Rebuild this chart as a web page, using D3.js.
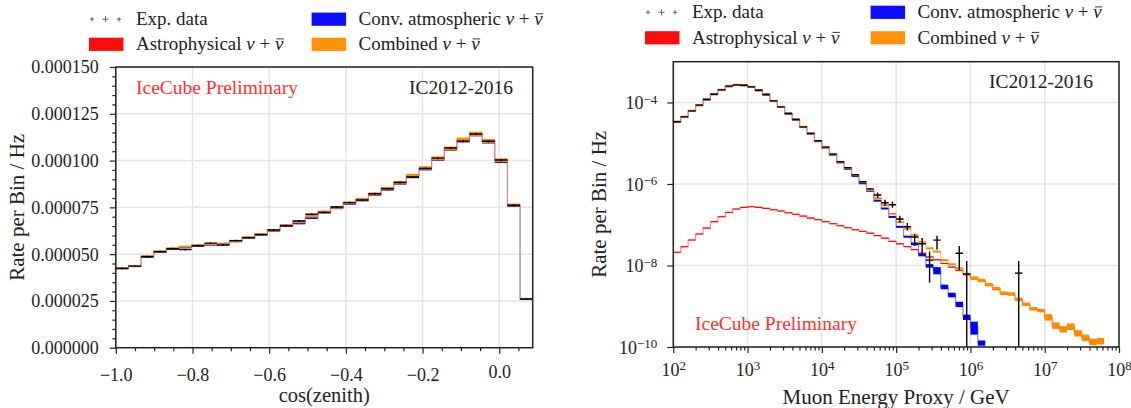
<!DOCTYPE html>
<html>
<head>
<meta charset="utf-8">
<script src="https://cdn.jsdelivr.net/npm/d3@7"></script>
<style>
  body { margin: 0; background: #fff; }
  svg text { font-family: "Liberation Serif", "DejaVu Serif", serif; fill: #222; }
</style>
</head>
<body>
<svg id="fig" width="1131" height="408"></svg>
<script>
////////////////////////////////////////////
// Données : panneau cos(zenith)          //
////////////////////////////////////////////
const cosMin = -1.0, cosMax = 0.0872, cosBins = 33;
const cosData = [4.24e-5, 4.36e-5, 4.86e-5, 5.13e-5, 5.29e-5, 5.24e-5, 5.45e-5, 5.59e-5, 5.49e-5, 5.72e-5, 5.88e-5,
                 6.04e-5, 6.29e-5, 6.52e-5, 6.77e-5, 7.13e-5, 7.23e-5, 7.52e-5, 7.75e-5, 7.89e-5, 8.23e-5, 8.49e-5,
                 8.83e-5, 9.12e-5, 9.58e-5, 10.13e-5, 10.67e-5, 11.04e-5, 11.42e-5, 11.03e-5, 10.03e-5, 7.61e-5, 2.60e-5];
const cosDataErr = [0.05e-5, 0.05e-5, 0.05e-5, 0.05e-5, 0.05e-5, 0.05e-5, 0.05e-5, 0.05e-5, 0.05e-5, 0.05e-5, 0.05e-5,
                    0.05e-5, 0.05e-5, 0.05e-5, 0.05e-5, 0.05e-5, 0.05e-5, 0.05e-5, 0.05e-5, 0.05e-5, 0.05e-5, 0.05e-5,
                    0.05e-5, 0.05e-5, 0.05e-5, 0.06e-5, 0.06e-5, 0.06e-5, 0.06e-5, 0.06e-5, 0.06e-5, 0.05e-5, 0.03e-5];
const cosConv = [4.24e-5, 4.36e-5, 4.87e-5, 5.13e-5, 5.28e-5, 5.36e-5, 5.45e-5, 5.50e-5, 5.55e-5, 5.69e-5, 5.87e-5,
                 6.05e-5, 6.26e-5, 6.52e-5, 6.66e-5, 6.95e-5, 7.24e-5, 7.48e-5, 7.71e-5, 7.90e-5, 8.19e-5, 8.48e-5,
                 8.80e-5, 9.15e-5, 9.57e-5, 10.09e-5, 10.62e-5, 11.08e-5, 11.41e-5, 11.02e-5, 9.97e-5, 7.60e-5, 2.60e-5];
const cosComb = [4.25e-5, 4.37e-5, 4.88e-5, 5.14e-5, 5.31e-5, 5.40e-5, 5.47e-5, 5.52e-5, 5.53e-5, 5.71e-5, 5.89e-5,
                 6.06e-5, 6.27e-5, 6.54e-5, 6.72e-5, 7.02e-5, 7.25e-5, 7.50e-5, 7.74e-5, 7.93e-5, 8.21e-5, 8.51e-5,
                 8.82e-5, 9.20e-5, 9.60e-5, 10.12e-5, 10.64e-5, 11.12e-5, 11.43e-5, 11.05e-5, 10.02e-5, 7.63e-5, 2.61e-5];
const cosBandFrac = 0.01;
const cosXTicks = [-1.0, -0.8, -0.6, -0.4, -0.2, 0.0];
const cosYTicks = [0, 2.5e-5, 5e-5, 7.5e-5, 1e-4, 1.25e-4, 1.5e-4];

////////////////////////////////////////////
// Données : panneau énergie (log-log)    //
////////////////////////////////////////////
const eLogMin = 2, eLogStep = 0.1, eBins = 58;
const eData = [3.35e-5, 4.44e-5, 6.22e-5, 8.59e-5, 1.186e-4, 1.596e-4, 2.04e-4, 2.51e-4, 2.70e-4, 2.65e-4,
               2.41e-4, 2.00e-4, 1.57e-4, 1.094e-4, 7.80e-5, 5.37e-5, 3.83e-5, 2.52e-5, 1.74e-5, 1.146e-5,
               8.02e-6, 5.41e-6, 3.50e-6, 2.49e-6, 1.68e-6, 1.13e-6, 7.59e-7, 5.37e-7, 3.47e-7, 3.09e-7,
               1.38e-7, 8.9e-8, 5.0e-8, 3.4e-8, 1.35e-8, 4.2e-8, null, null, 2.0e-8, 6.2e-9,
               null, null, null, null, null, null, 6.5e-9, null, null, null,
               null, null, null, null, null, null, null, null];
const eDataLow = [null, null, null, null, null, null, null, null, null, null,
                  null, null, null, null, null, null, null, null, null, null,
                  null, null, null, null, null, null, 7.3e-7, 4.6e-7, 2.9e-7, 2.6e-7,
                  1.12e-7, 7.2e-8, 3.0e-8, 1.8e-8, 3.8e-9, 2.45e-8, null, null, 7.8e-9, 0,
                  null, null, null, null, null, null, 0, null, null, null,
                  null, null, null, null, null, null, null, null];
const eDataHigh = [null, null, null, null, null, null, null, null, null, null,
                   null, null, null, null, null, null, null, null, null, null,
                   null, null, null, null, null, null, 7.9e-7, 6.2e-7, 4.1e-7, 3.7e-7,
                   1.66e-7, 1.10e-7, 6.0e-8, 4.7e-8, 2.2e-8, 5.4e-8, null, null, 3.0e-8, 1.29e-8,
                   null, null, null, null, null, null, 1.29e-8, null, null, null,
                   null, null, null, null, null, null, null, null];
const eConv = [3.34e-5, 4.43e-5, 6.20e-5, 8.57e-5, 1.184e-4, 1.594e-4, 2.03e-4, 2.50e-4, 2.69e-4, 2.64e-4,
               2.40e-4, 1.99e-4, 1.56e-4, 1.09e-4, 7.75e-5, 5.33e-5, 3.80e-5, 2.49e-5, 1.71e-5, 1.12e-5,
               7.85e-6, 5.25e-6, 3.38e-6, 2.36e-6, 1.58e-6, 1.04e-6, 6.8e-7, 3.9e-7, 2.5e-7, 1.55e-7,
               8.9e-8, 5.1e-8, 3.4e-8, 1.82e-8, 9.8e-9, 7.6e-9, 3.0e-9, 1.9e-9, 1.12e-9, 5.4e-10,
               3.1e-10, 1.26e-10, null, null, null, null, null, null, null, null,
               null, null, null, null, null, null, null, null];
const eConvUnc = [0.02, 0.02, 0.02, 0.02, 0.02, 0.02, 0.02, 0.02, 0.02, 0.02,
                  0.02, 0.02, 0.02, 0.02, 0.02, 0.02, 0.02, 0.02, 0.02, 0.02,
                  0.02, 0.02, 0.02, 0.02, 0.02, 0.02, 0.03, 0.03, 0.03, 0.03,
                  0.05, 0.05, 0.08, 0.08, 0.10, 0.20, 0.13, 0.13, 0.15, 0.15,
                  0.35, 0.15, null, null, null, null, null, null, null, null,
                  null, null, null, null, null, null, null, null];
const eAstro = [2.11e-8, 2.89e-8, 4.22e-8, 5.92e-8, 8.30e-8, 1.186e-7, 1.57e-7, 2.01e-7, 2.43e-7, 2.67e-7,
                2.76e-7, 2.67e-7, 2.52e-7, 2.33e-7, 2.17e-7, 1.97e-7, 1.80e-7, 1.63e-7, 1.46e-7, 1.33e-7,
                1.186e-7, 1.06e-7, 9.44e-8, 8.43e-8, 7.53e-8, 6.9e-8, 6.2e-8, 5.4e-8, 4.7e-8, 3.9e-8,
                3.4e-8, 2.9e-8, 2.45e-8, 2.0e-8, 1.62e-8, 1.38e-8, 1.12e-8, 9.1e-9, 7.6e-9, 5.9e-9,
                4.8e-9, 4.2e-9, 3.3e-9, 2.6e-9, 2.04e-9, 1.95e-9, 1.45e-9, 1.1e-9, 8.5e-10, 7.8e-10,
                5.2e-10, 3.3e-10, 2.7e-10, 3.16e-10, 2.1e-10, 1.66e-10, 1.32e-10, 1.38e-10];
const eAstroUnc = 0.01;
const eComb = [3.35e-5, 4.44e-5, 6.22e-5, 8.59e-5, 1.186e-4, 1.596e-4, 2.04e-4, 2.51e-4, 2.70e-4, 2.65e-4,
               2.41e-4, 2.00e-4, 1.57e-4, 1.094e-4, 7.80e-5, 5.37e-5, 3.83e-5, 2.52e-5, 1.74e-5, 1.14e-5,
               7.98e-6, 5.38e-6, 3.49e-6, 2.45e-6, 1.66e-6, 1.11e-6, 7.08e-7, 4.47e-7, 3.02e-7, 1.86e-7,
               1.17e-7, 8.1e-8, 5.5e-8, 3.8e-8, 2.63e-8, 2.19e-8, 1.35e-8, 1.07e-8, 8.5e-9, 6.2e-9,
               4.9e-9, 4.3e-9, 3.4e-9, 2.7e-9, 2.1e-9, 2.0e-9, 1.48e-9, 1.12e-9, 8.7e-10, 7.9e-10,
               5.4e-10, 3.4e-10, 2.75e-10, 3.2e-10, 2.2e-10, 1.7e-10, 1.35e-10, 1.41e-10];
const eCombUnc = [0.02, 0.02, 0.02, 0.02, 0.02, 0.02, 0.02, 0.02, 0.02, 0.02,
                  0.02, 0.02, 0.02, 0.02, 0.02, 0.02, 0.02, 0.02, 0.02, 0.02,
                  0.02, 0.02, 0.02, 0.02, 0.02, 0.02, 0.04, 0.04, 0.04, 0.04,
                  0.05, 0.05, 0.05, 0.05, 0.05, 0.05, 0.05, 0.05, 0.05, 0.05,
                  0.10, 0.10, 0.10, 0.10, 0.10, 0.10, 0.10, 0.10, 0.10, 0.10,
                  0.18, 0.18, 0.18, 0.18, 0.18, 0.18, 0.18, 0.18];
const eXTicks = [1e2, 1e3, 1e4, 1e5, 1e6, 1e7, 1e8];
const eYTicks = [1e-10, 1e-8, 1e-6, 1e-4];

const legendItems = [
  { kind: "data", label: "Exp. data" },
  { kind: "patch", color: "#ff0000", label: "Astrophysical" },
  { kind: "patch", color: "#0000ff", label: "Conv. atmospheric" },
  { kind: "patch", color: "#ff8c00", label: "Combined" }
];

// couleurs
const cRed = "#ff0000", cBlue = "#0000ff", cOrange = "#ff8c00";
const gridCol = "#e6e6e6", axisCol = "#222";
const serif = "Liberation Serif";

const svg = d3.select("#fig");

/////////////////////////////////////////////////////
// Fonctions de dessin des histogrammes           //
/////////////////////////////////////////////////////
function stepPath(x, y, edges, vals) {
  let d = "", open = false;
  vals.forEach((v, i) => {
    if (v == null || v <= 0) { open = false; return; }
    const xa = x(edges[i]), xb = x(edges[i + 1]), yv = y(v);
    if (!open) { d += `M${xa},${yv}`; open = true; } else { d += `V${yv}`; }
    d += `H${xb}`;
  });
  return d;
}

function drawBand(g, x, y, edges, vals, unc, color, minH) {
  const bins = vals.map((v, i) => ({ v: v, u: Array.isArray(unc) ? unc[i] : unc, i: i }))
                   .filter(b => b.v != null && b.v > 0);
  const hgt = b => Math.max(y(b.v * (1 - b.u)) - y(b.v * (1 + b.u)), minH);
  g.append("g").selectAll("rect").data(bins).join("rect")
    .attr("x", b => x(edges[b.i]))
    .attr("width", b => x(edges[b.i + 1]) - x(edges[b.i]))
    .attr("y", b => (y(b.v * (1 + b.u)) + y(b.v * (1 - b.u))) / 2 - hgt(b) / 2)
    .attr("height", hgt)
    .attr("fill", color);
  g.append("path").attr("d", stepPath(x, y, edges, vals))
    .attr("fill", "none").attr("stroke", color).attr("stroke-opacity", 0.45).attr("stroke-width", 1.2);
}

function drawData(g, x, y, edges, vals, lo, hi, bottom) {
  const pts = vals.map((v, i) => ({ v: v, i: i })).filter(p => p.v != null);
  const gd = g.append("g").attr("stroke", "#000").attr("stroke-width", 1.4);
  gd.selectAll("line.h").data(pts).join("line").attr("class", "h")
    .attr("x1", p => x(edges[p.i])).attr("x2", p => x(edges[p.i + 1]))
    .attr("y1", p => y(p.v)).attr("y2", p => y(p.v));
  const bars = pts.filter(p => lo[p.i] != null);
  gd.selectAll("line.v").data(bars).join("line").attr("class", "v")
    .attr("x1", p => (x(edges[p.i]) + x(edges[p.i + 1])) / 2)
    .attr("x2", p => (x(edges[p.i]) + x(edges[p.i + 1])) / 2)
    .attr("y1", p => y(hi[p.i]))
    .attr("y2", p => lo[p.i] > 0 ? y(lo[p.i]) : bottom + 5);
}

// "label  ν + ν̄" : la barre du ν̄ est un petit trait posé au-dessus du dernier caractère
function nuText(g, t, label, size) {
  t.attr("font-size", size).attr("font-family", serif).style("font-family", serif);
  t.append("tspan").text(label + " ");
  t.append("tspan").attr("font-style", "italic").text("ν");
  t.append("tspan").text(" + ");
  t.append("tspan").attr("font-style", "italic").text("ν");
  const node = t.node();
  const box = node.getExtentOfChar(node.getNumberOfChars() - 1);
  const yb = +t.attr("y") - size * 0.6;
  g.append("line").attr("x1", box.x + 1.5).attr("x2", box.x + box.width + 0.5)
    .attr("y1", yb).attr("y2", yb).attr("stroke", "#222").attr("stroke-width", 0.9);
}

function drawLegend(px, cy, colGap, rowGap) {
  const g = svg.append("g");
  legendItems.forEach((it, k) => {
    const col = Math.floor(k / 2), row = k % 2;
    const x = px + col * colGap, y = cy + row * rowGap;
    if (it.kind === "data") {
      [[3, 2.2], [16.5, 3], [30, 2.2]].forEach(([dx, s]) => {
        g.append("path").attr("d", `M${x + dx - s},${y}H${x + dx + s}M${x + dx},${y - s}V${y + s}`)
          .attr("stroke", "#555").attr("stroke-width", 0.9);
      });
      g.append("text").attr("x", x + 47).attr("y", y + 6).attr("font-size", 19).text(it.label);
    } else {
      g.append("rect").attr("x", x).attr("y", y - 6.6).attr("width", 34.5).attr("height", 13.2)
        .attr("fill", it.color).attr("fill-opacity", 0.95);
      const t = g.append("text").attr("x", x + 47).attr("y", y + 6);
      nuText(g, t, it.label, 19);
    }
  });
}

/////////////////////////////////////////////////////
// Panneau gauche : cos(zenith)                    //
/////////////////////////////////////////////////////
const L = { x0: 115.8, x1: 532.7, y0: 67, y1: 347.7 };
const xL = d3.scaleLinear().domain([cosMin, cosMax]).range([L.x0, L.x1]);
const yL = d3.scaleLinear().domain([0, 1.5e-4]).range([L.y1, L.y0]);
const cosEdges = d3.range(cosBins + 1).map(i => cosMin + i * (cosMax - cosMin) / cosBins);

svg.append("clipPath").attr("id", "clipL").append("rect")
  .attr("x", L.x0).attr("y", L.y0).attr("width", L.x1 - L.x0).attr("height", L.y1 - L.y0);

const gL = svg.append("g");
// grille
gL.append("g").selectAll("line").data(cosXTicks).join("line")
  .attr("x1", d => xL(d)).attr("x2", d => xL(d)).attr("y1", L.y0).attr("y2", L.y1)
  .attr("stroke", gridCol).attr("stroke-width", 1.5);
gL.append("g").selectAll("line").data(cosYTicks).join("line")
  .attr("x1", L.x0).attr("x2", L.x1).attr("y1", d => yL(d)).attr("y2", d => yL(d))
  .attr("stroke", gridCol).attr("stroke-width", 1.5);

const pL = gL.append("g").attr("clip-path", "url(#clipL)");
drawBand(pL, xL, yL, cosEdges, cosConv, cosBandFrac, cBlue, 2);
drawBand(pL, xL, yL, cosEdges, cosComb, cosBandFrac, cOrange, 2);
drawData(pL, xL, yL, cosEdges, cosData,
  cosData.map((v, i) => v - cosDataErr[i]), cosData.map((v, i) => v + cosDataErr[i]), L.y1);

// axes
const axL = gL.append("g").attr("transform", `translate(0,${L.y1})`)
  .call(d3.axisBottom(xL).tickValues(cosXTicks).tickSize(6).tickPadding(0).tickFormat(d3.format(".1f")));
gL.append("g").attr("transform", `translate(0,${L.y1})`)
  .call(d3.axisBottom(xL).tickValues(d3.range(-0.95, 0.09, 0.05).filter(v => Math.abs(v * 5 - Math.round(v * 5)) > 1e-6))
    .tickSize(3.5).tickFormat(""));
axL.selectAll(".tick text").attr("font-size", 18).attr("dy", 0)
  .attr("y", d => d < 0 ? 33 : 30.5);
const ayL = gL.append("g").attr("transform", `translate(${L.x0},0)`)
  .call(d3.axisLeft(yL).tickValues(cosYTicks).tickSize(6).tickPadding(11).tickFormat(d3.format(".6f")));
gL.append("g").attr("transform", `translate(${L.x0},0)`)
  .call(d3.axisLeft(yL).tickValues(d3.range(0, 1.5e-4, 5e-6).filter((v, i) => i % 5 !== 0)).tickSize(3.5).tickFormat(""));
ayL.selectAll(".tick text").attr("font-size", 18).attr("dy", "0.33em");

gL.append("rect").attr("x", L.x0).attr("y", L.y0).attr("width", L.x1 - L.x0).attr("height", L.y1 - L.y0)
  .attr("fill", "none").attr("stroke", axisCol).attr("stroke-width", 1.5);

gL.append("text").attr("x", 136).attr("y", 94).attr("font-size", 19.5).style("fill", "#ff3030")
  .text("IceCube Preliminary");
gL.append("text").attr("x", 513).attr("y", 94).attr("font-size", 19.5).attr("text-anchor", "end")
  .text("IC2012-2016");
gL.append("text").attr("x", (L.x0 + L.x1) / 2).attr("y", 402).attr("font-size", 20.5).attr("text-anchor", "middle")
  .text("cos(zenith)");
gL.append("text").attr("transform", `translate(24,${(L.y0 + L.y1) / 2}) rotate(-90)`)
  .attr("font-size", 21).attr("text-anchor", "middle").text("Rate per Bin / Hz");

drawLegend(89, 19.2, 222.6, 25.1);

/////////////////////////////////////////////////////
// Panneau droit : énergie proxy du muon           //
/////////////////////////////////////////////////////
const R = { x0: 673.3, x1: 1119, y0: 61.7, y1: 347 };
const xR = d3.scaleLog().domain([1e2, 1e8]).range([R.x0, R.x1]);
const yR = d3.scaleLog().domain([1e-10, 1e-3]).range([R.y1, R.y0]);
const eEdges = d3.range(eBins + 1).map(i => Math.pow(10, eLogMin + i * eLogStep));

svg.append("clipPath").attr("id", "clipR").append("rect")
  .attr("x", R.x0).attr("y", R.y0).attr("width", R.x1 - R.x0).attr("height", R.y1 - R.y0);

const gR = svg.append("g");
gR.append("g").selectAll("line").data(eXTicks).join("line")
  .attr("x1", d => xR(d)).attr("x2", d => xR(d)).attr("y1", R.y0).attr("y2", R.y1)
  .attr("stroke", gridCol).attr("stroke-width", 1.5);
gR.append("g").selectAll("line").data(eYTicks).join("line")
  .attr("x1", R.x0).attr("x2", R.x1).attr("y1", d => yR(d)).attr("y2", d => yR(d))
  .attr("stroke", gridCol).attr("stroke-width", 1.5);

const pR = gR.append("g").attr("clip-path", "url(#clipR)");
drawBand(pR, xR, yR, eEdges, eAstro, eAstroUnc, cRed, 1.1);
drawBand(pR, xR, yR, eEdges, eConv, eConvUnc, cBlue, 2);
drawBand(pR, xR, yR, eEdges, eComb, eCombUnc, cOrange, 2);
drawData(pR, xR, yR, eEdges, eData, eDataLow, eDataHigh, R.y1);

const supLabel = (sel, sup) => {
  sel.each(function (d) {
    const t = d3.select(this).text("");
    t.append("tspan").text("10");
    t.append("tspan").attr("dy", "-0.45em").attr("font-size", 13).text(sup(d));
  });
};
const minorE = [];
d3.range(2, 8).forEach(n => d3.range(2, 10).forEach(k => minorE.push(k * Math.pow(10, n))));

const axR = gR.append("g").attr("transform", `translate(0,${R.y1})`)
  .call(d3.axisBottom(xR).tickValues(eXTicks).tickSize(6).tickFormat(d => d));
gR.append("g").attr("transform", `translate(0,${R.y1})`)
  .call(d3.axisBottom(xR).tickValues(minorE).tickSize(3.5).tickFormat(""));
axR.selectAll(".tick text").attr("font-size", 18).attr("dy", 0).attr("y", 29)
  .call(supLabel, d => String(Math.round(Math.log10(d))));
const ayR = gR.append("g").attr("transform", `translate(${R.x0},0)`)
  .call(d3.axisLeft(yR).tickValues(eYTicks).tickSize(6).tickPadding(10).tickFormat(d => d));
ayR.selectAll(".tick text").attr("font-size", 18).attr("dy", 0).attr("y", 6.5)
  .call(supLabel, d => "\u2212" + String(Math.round(-Math.log10(d))));

gR.append("rect").attr("x", R.x0).attr("y", R.y0).attr("width", R.x1 - R.x0).attr("height", R.y1 - R.y0)
  .attr("fill", "none").attr("stroke", axisCol).attr("stroke-width", 1.5);

gR.append("text").attr("x", 695).attr("y", 330).attr("font-size", 19.5).style("fill", "#ff3030")
  .text("IceCube Preliminary");
gR.append("text").attr("x", 1093).attr("y", 88).attr("font-size", 19.5).attr("text-anchor", "end")
  .text("IC2012-2016");
gR.append("text").attr("x", (R.x0 + R.x1) / 2).attr("y", 404).attr("font-size", 21).attr("text-anchor", "middle")
  .text("Muon Energy Proxy / GeV");
gR.append("text").attr("transform", `translate(606,${(R.y0 + R.y1) / 2}) rotate(-90)`)
  .attr("font-size", 21).attr("text-anchor", "middle").text("Rate per Bin / Hz");

drawLegend(645, 12.3, 225.6, 25.5);

// style commun des axes et des textes
svg.selectAll(".domain").remove();
svg.selectAll(".tick line").attr("stroke", axisCol).attr("stroke-width", 1.2);
svg.selectAll(".tick text").style("fill", "#222");
svg.selectAll("text").attr("font-family", serif).style("font-family", serif);
</script>
</body>
</html>
